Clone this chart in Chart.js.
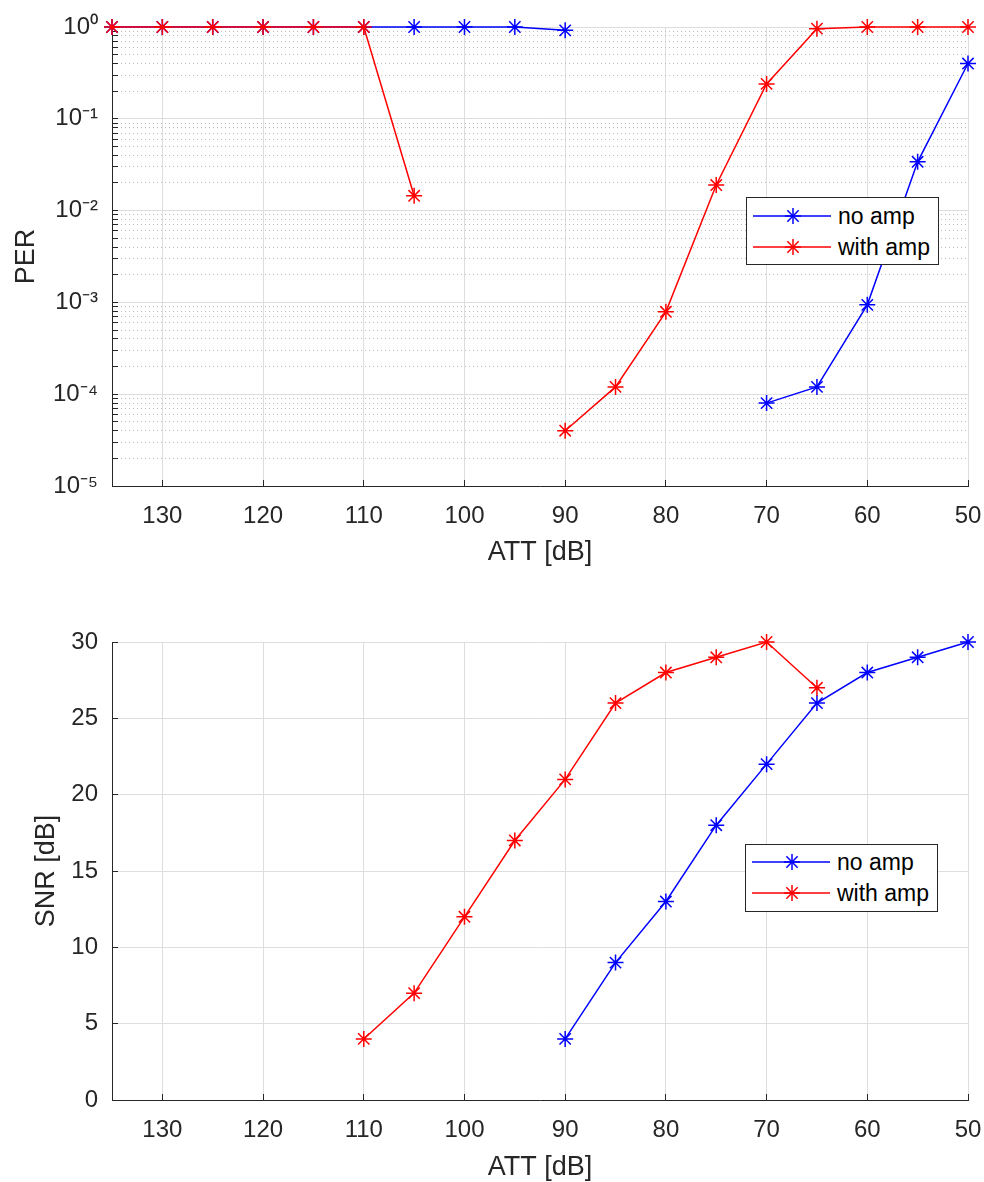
<!DOCTYPE html>
<html>
<head>
<meta charset="utf-8">
<script src="https://cdn.jsdelivr.net/npm/chart.js@4/dist/chart.umd.min.js"></script>
<style>
  body { margin: 0; background: #fff; }
  #wrap { position: relative; width: 984px; height: 1182px; overflow: hidden; }
  canvas { position: absolute; left: 0; }
  .legend { position: absolute; width: 193px; height: 68px; box-sizing: border-box;
            border: 1px solid #262626; background: #fff;
            font-family: 'Liberation Sans', Arial, sans-serif; font-size: 23px; color: #000; }
  .legend .row { position: absolute; left: 0; height: 30px; width: 100%; }
  .legend svg { position: absolute; left: 0; top: 0; }
  .legend span { position: absolute; left: 91px; top: 0; line-height: 30px; white-space: nowrap; }
</style>
</head>
<body>
<div id="wrap">
  <canvas id="perChart" width="984" height="590" style="top:0"></canvas>
  <canvas id="snrChart" width="984" height="592" style="top:590px"></canvas>
  <div class="legend" id="perLegend" style="left:746px; top:197px"></div>
  <div class="legend" id="snrLegend" style="left:745px; top:844px"></div>
</div>
<script>
// attenuation steps (x), shared by both plots
let attDb = [135, 130, 125, 120, 115, 110, 105, 100, 95, 90, 85, 80, 75, 70, 65, 60, 55, 50];

// packet error rate (null = 0, not drawable on log axis)
let perNoAmp   = [1, 1, 1, 1, 1, 1, 1, 1, 1, 0.92, null, null, null, 8e-5, 1.2e-4, 9.4e-4, 0.034, 0.40];
let perWithAmp = [1, 1, 1, 1, 1, 1, 0.0145, null, null, 4e-5, 1.2e-4, 7.9e-4, 0.019, 0.24, 0.96, 1, 1, 1];

// SNR in dB
let snrNoAmp   = [null, null, null, null, null, null, null, null, null, 4, 9, 13, 18, 22, 26, 28, 29, 30];
let snrWithAmp = [null, null, null, null, null, 4, 7, 12, 17, 21, 26, 28, 29, 30, 27, null, null, null];

let seriesNames  = ['no amp', 'with amp'];
let seriesColors = ['#0000ff', '#ff0000'];
let perDecades = [-5, -4, -3, -2, -1, 0];

const FONT = "'Liberation Sans', Arial, Helvetica, sans-serif";
const AXIS = '#262626';
const GRID = '#dedede';
const MINOR = '#bdbdbd';

function points(ys) {
  return attDb.map((x, i) => ({ x: x, y: ys[i] }));
}

function series(ys, k) {
  return {
    label: seriesNames[k],
    data: points(ys),
    borderColor: seriesColors[k],
    backgroundColor: seriesColors[k],
    borderWidth: 1.5,
    pointStyle: 'star',
    pointRadius: 8,
    pointHoverRadius: 8,
    pointBorderWidth: 1.5,
    spanGaps: false,
    tension: 0,
    clip: false,
    order: k === 1 ? 0 : 1
  };
}

function isMajor(v) {
  let l = Math.log10(v);
  return Math.abs(l - Math.round(l)) < 1e-6;
}

const SUP = { '0': '\u2070', '1': '\u00b9', '2': '\u00b2', '3': '\u00b3', '4': '\u2074', '5': '\u2075', '-': '\u207b' };
function pow10Label(v) {
  let e = String(Math.round(Math.log10(v)));
  return '10' + e.split('').map(c => SUP[c]).join('');
}

// tick positions for the log axis: 1..9 x 10^n
let perTicks = [];
perDecades.forEach(e => {
  if (e === 0) { perTicks.push(1); return; }
  for (let m = 1; m <= 9; m++) perTicks.push(m * Math.pow(10, e));
});

function xAxis(h, titlePad) {
  return {
    type: 'linear', reverse: true, min: 50, max: 135,
    ticks: { stepSize: 10, includeBounds: false, color: AXIS, padding: 22, maxRotation: 0, autoSkip: false,
             font: { family: FONT, size: 24 } },
    grid: { color: GRID, lineWidth: 1, tickLength: -6, tickColor: AXIS, tickWidth: 1 },
    border: { color: AXIS, width: 1 },
    title: { display: true, text: 'ATT [dB]', color: AXIS, font: { family: FONT, size: 27, lineHeight: 1 },
             padding: { top: 0, bottom: titlePad } },
    afterFit: s => { s.height = h; s.paddingLeft = 0; s.paddingRight = 0; }
  };
}

function yTitle(text, pad) {
  return { display: true, text: text, color: AXIS, font: { family: FONT, size: 27, lineHeight: 1 },
           padding: { top: pad, bottom: 0 } };
}

function yFit(s) {
  s.width = 112;
  s.paddingTop = 0;
  s.paddingBottom = 0;
}

const common = {
  responsive: false,
  maintainAspectRatio: false,
  animation: false,
  events: [],
  plugins: { legend: { display: false }, tooltip: { enabled: false } }
};

new Chart(document.getElementById('perChart').getContext('2d'), {
  type: 'line',
  data: { datasets: [series(perNoAmp, 0), series(perWithAmp, 1)] },
  options: Object.assign({}, common, {
    layout: { padding: { left: 0, right: 16, top: 27, bottom: 0 } },
    scales: {
      x: xAxis(104, 23.5),
      y: {
        type: 'logarithmic', min: 1e-5, max: 1,
        afterBuildTicks: s => { s.ticks = perTicks.map(v => ({ value: v })); },
        ticks: { autoSkip: false, color: AXIS, padding: 20, font: { family: FONT, size: 24 },
                 callback: v => isMajor(v) ? pow10Label(v) : '' },
        grid: {
          color: c => (c.tick && !isMajor(c.tick.value)) ? MINOR : GRID,
          lineWidth: 1, tickLength: -6, tickColor: AXIS, tickWidth: 1, tickBorderDash: []
        },
        border: { color: AXIS, width: 1,
                  dash: c => (c.tick && !isMajor(c.tick.value)) ? [1, 3] : [] },
        title: yTitle('PER', 13.5),
        afterFit: yFit
      }
    }
  })
});

new Chart(document.getElementById('snrChart').getContext('2d'), {
  type: 'line',
  data: { datasets: [series(snrNoAmp, 0), series(snrWithAmp, 1)] },
  options: Object.assign({}, common, {
    layout: { padding: { left: 0, right: 16, top: 52, bottom: 0 } },
    scales: {
      x: xAxis(82, 0.5),
      y: {
        type: 'linear', min: 0, max: 30,
        ticks: { stepSize: 5, color: AXIS, padding: 20, font: { family: FONT, size: 24 } },
        grid: { color: GRID, lineWidth: 1, tickLength: -6, tickColor: AXIS, tickWidth: 1 },
        border: { color: AXIS, width: 1 },
        title: yTitle('SNR [dB]', 33.5),
        afterFit: yFit
      }
    }
  })
});

// legend boxes
function starSvg(color, cx, cy, r) {
  let s = '';
  [0, 45, 90, 135].forEach(a => {
    let dx = r * Math.cos(a * Math.PI / 180), dy = r * Math.sin(a * Math.PI / 180);
    s += '<line x1="' + (cx - dx) + '" y1="' + (cy - dy) + '" x2="' + (cx + dx) + '" y2="' + (cy + dy) + '"/>';
  });
  return '<g stroke="' + color + '" stroke-width="1.5">' + s + '</g>';
}

function buildLegend(id, rowCenters) {
  let el = document.getElementById(id);
  let html = '';
  seriesNames.forEach((name, k) => {
    let c = seriesColors[k];
    html += '<div class="row" style="top:' + (rowCenters[k] - 15) + 'px">' +
      '<svg width="90" height="30"><line x1="6" y1="15" x2="84" y2="15" stroke="' + c + '" stroke-width="1.5"/>' +
      starSvg(c, 46, 15, 8) + '</svg><span>' + name + '</span></div>';
  });
  el.innerHTML = html;
}
buildLegend('perLegend', [18, 49]);
buildLegend('snrLegend', [17, 48]);
</script>
</body>
</html>
